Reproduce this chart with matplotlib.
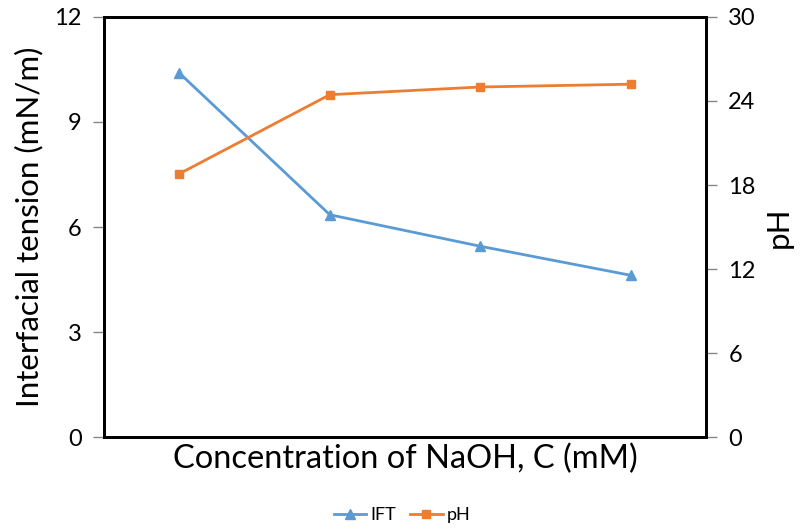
import matplotlib.pyplot as plt

plt.rcParams['font.family'] = ['Lato', 'DejaVu Sans']

# data
conc = ['1', '2', '3', '4']
ift = [10.4, 6.35, 5.45, 4.62]
ph = [18.8, 24.45, 25.0, 25.2]

blue = '#5B9BD5'
orange = '#ED7D31'

fig = plt.figure(figsize=(8.04, 5.31), dpi=100)
ax = fig.add_axes([0.1294, 0.177, 0.7488, 0.791])
ax2 = ax.twinx()

x = range(len(conc))
l1, = ax.plot(x, ift, color=blue, lw=2, marker='^', ms=7, label='IFT')
l2, = ax2.plot(x, ph, color=orange, lw=2, marker='s', ms=6, label='pH')

ax.set_xlim(-0.5, len(conc) - 0.5)
ax.set_ylim(0, 12)
ax.set_yticks([0, 3, 6, 9, 12])
ax2.set_ylim(0, 30)
ax2.set_yticks([0, 6, 12, 18, 24, 30])
ax.set_xticks([])

for a in (ax, ax2):
    for s in a.spines.values():
        s.set_color('black')
        s.set_linewidth(2)
    a.tick_params(axis='y', colors='#868686', length=8, width=1, labelsize=17,
                  labelcolor='black', pad=8)

ax.set_ylabel('Interfacial tension (mN/m)', fontsize=22.5, labelpad=8)
ax2.set_ylabel('pH', fontsize=22.5, labelpad=6)
ax.set_xlabel('Concentration of NaOH, C (mM)', fontsize=23.5, labelpad=5)

fig.legend([l1, l2], ['IFT', 'pH'], loc='center', bbox_to_anchor=(0.5, 0.03),
           ncol=2, frameon=False, fontsize=13, handlelength=1.8,
           columnspacing=0.8, handletextpad=0.2)

fig.savefig('out.png', dpi=100)
